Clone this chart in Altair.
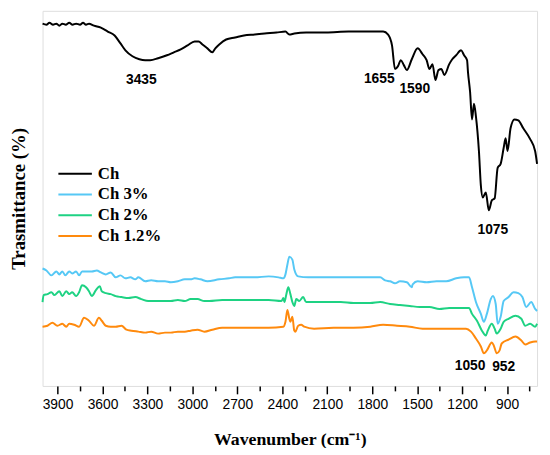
import altair as alt
import pandas as pd

names = ["Ch", "Ch 3%", "Ch 2%", "Ch 1.2%"]
colors = ["#000000", "#56C8F5", "#1ED283", "#FF8A0D"]

ch_wn = [4000, 3974, 3954, 3930, 3908, 3888, 3868, 3845, 3822, 3800, 3776, 3750, 3730, 3710, 3690, 3657,
         3611, 3565, 3519, 3480, 3447, 3400, 3354, 3315, 3282, 3229, 3170, 3124, 3078, 3032, 2985, 2959,
         2933, 2900, 2867, 2847, 2821, 2775, 2715, 2656, 2584, 2518, 2439, 2379, 2353, 2320, 2241, 2109,
         1958, 1846, 1727, 1694, 1668, 1648, 1628, 1609, 1589, 1569, 1536, 1497, 1464, 1437, 1418, 1398,
         1378, 1358, 1338, 1319, 1286, 1266, 1240, 1207, 1187, 1167, 1161, 1147, 1134, 1121, 1108, 1088,
         1075, 1062, 1042, 1022, 1002, 983, 963, 943, 923, 910, 897, 877, 851, 825, 792, 746, 713, 700]
ch_t = [367, 366, 368, 366, 367, 365, 367, 366, 368, 366, 367, 366, 368, 366, 367, 365,
        363, 359, 355, 347, 340, 334, 331, 330, 330, 332, 335, 338, 341, 345, 349, 349,
        346, 342, 338, 342, 346, 351, 353, 355, 356, 357, 358, 359, 356, 357, 358, 358,
        359, 359, 359, 356, 345, 321, 324, 330, 325, 320, 331, 342, 336, 330, 321, 326,
        310, 320, 321, 315, 326, 331, 335, 340, 335, 330, 318, 298, 270, 286, 273, 238,
        203, 191, 196, 178, 188, 190, 221, 225, 241, 251, 238, 261, 270, 269, 261, 250, 238, 225]

c3_wn = [4000, 3974, 3941, 3908, 3888, 3868, 3848, 3822, 3802, 3776, 3756, 3736, 3704, 3671, 3638, 3611,
         3578, 3545, 3512, 3480, 3447, 3414, 3381, 3361, 3315, 3275, 3229, 3183, 3144, 3097, 3051, 3012,
         2985, 2946, 2900, 2821, 2755, 2715, 2649, 2584, 2491, 2425, 2393, 2379, 2366, 2353, 2333, 2320,
         2294, 2228, 2142, 2057, 1964, 1879, 1813, 1747, 1714, 1681, 1648, 1615, 1569, 1536, 1530, 1497,
         1437, 1371, 1306, 1240, 1187, 1154, 1134, 1108, 1075, 1055, 1035, 1009, 995, 976, 963, 943,
         923, 890, 857, 825, 798, 772, 739, 713, 700]
c3_t = [119, 117, 112, 116, 113, 116, 112, 116, 114, 116, 112, 116, 116, 116, 117, 115,
        113, 115, 110, 112, 109, 110, 108, 110, 106, 107, 106, 106, 105, 106, 108, 108,
        109, 108, 106, 108, 109, 110, 110, 110, 111, 110, 109, 113, 123, 131, 128, 118,
        111, 110, 110, 110, 110, 110, 110, 110, 107, 106, 104, 106, 105, 100, 103, 106,
        105, 106, 106, 109, 110, 110, 100, 85, 73, 65, 73, 88, 91, 83, 63, 70,
        86, 90, 95, 94, 90, 80, 85, 78, 76]

c2_wn = [4000, 3993, 3967, 3941, 3921, 3888, 3868, 3842, 3822, 3802, 3776, 3756, 3736, 3710, 3690, 3671,
         3644, 3618, 3605, 3578, 3545, 3512, 3473, 3427, 3381, 3341, 3295, 3229, 3183, 3144, 3097, 3051,
         3012, 2966, 2920, 2887, 2801, 2715, 2603, 2491, 2406, 2393, 2386, 2373, 2360, 2346, 2333, 2320,
         2307, 2287, 2261, 2241, 2188, 2096, 2010, 1925, 1813, 1747, 1681, 1615, 1549, 1483, 1418, 1352,
         1286, 1220, 1154, 1134, 1101, 1068, 1042, 1029, 1002, 983, 969, 943, 923, 890, 844, 805,
         779, 746, 713, 700]
c2_t = [85, 92, 93, 95, 92, 96, 91, 96, 93, 95, 91, 95, 102, 100, 96, 91,
        97, 101, 96, 94, 93, 91, 90, 89, 90, 88, 86, 86, 86, 86, 87, 86,
        88, 88, 86, 86, 87, 87, 87, 87, 86, 89, 85, 93, 100, 93, 85, 81,
        88, 86, 90, 85, 85, 85, 85, 84, 84, 85, 83, 82, 81, 80, 80, 78,
        79, 79, 79, 73, 66, 56, 51, 56, 63, 58, 53, 58, 65, 68, 71, 68,
        61, 63, 60, 63]

c12_wn = [4000, 3967, 3934, 3901, 3868, 3842, 3822, 3789, 3756, 3723, 3690, 3657, 3624, 3605, 3578, 3545,
          3512, 3473, 3440, 3407, 3361, 3315, 3275, 3229, 3183, 3144, 3097, 3051, 3012, 2966, 2920, 2867,
          2801, 2715, 2603, 2491, 2393, 2379, 2366, 2353, 2346, 2333, 2320, 2313, 2294, 2274, 2254, 2188,
          2057, 1925, 1813, 1727, 1635, 1549, 1464, 1371, 1286, 1174, 1141, 1108, 1075, 1055, 1035, 1002,
          989, 969, 950, 936, 890, 844, 805, 779, 746, 713, 700]
c12_t = [60, 61, 64, 61, 63, 60, 63, 62, 60, 69, 66, 61, 69, 66, 61, 60,
         60, 61, 57, 56, 55, 54, 55, 53, 54, 54, 55, 55, 56, 57, 55, 57,
         59, 59, 59, 59, 60, 65, 77, 68, 65, 70, 56, 55, 61, 62, 60, 58,
         59, 59, 60, 62, 61, 60, 58, 58, 58, 58, 55, 48, 40, 33, 36, 44,
         41, 33, 36, 43, 47, 50, 46, 42, 44, 45, 45]

ann_text = ["3435", "1655", "1590", "1075", "1050", "952"]
ann_wn = [3341, 1753, 1516, 995, 1147, 923]
ann_t = [310, 311, 301, 158, 20, 19]

major_ticks = [3900, 3600, 3300, 3000, 2700, 2400, 2100, 1800, 1500, 1200, 900]
minor_ticks = [3750, 3450, 3150, 2850, 2550, 2250, 1950, 1650, 1350, 1050, 750]

rows = []
for nm, wns, ts in [("Ch", ch_wn, ch_t), ("Ch 3%", c3_wn, c3_t),
                    ("Ch 2%", c2_wn, c2_t), ("Ch 1.2%", c12_wn, c12_t)]:
    for i, (w, t) in enumerate(zip(wns, ts)):
        rows.append({"series": nm, "wn": w, "T": t, "idx": i})
df = pd.DataFrame(rows)
ann = pd.DataFrame({"label": ann_text, "wn": ann_wn, "T": ann_t})
minor_df = pd.DataFrame({"wn": minor_ticks})

xscale = alt.Scale(domain=[4000, 700], nice=False, zero=False)
yscale = alt.Scale(domain=[0, 380], nice=False, zero=False)

lines = alt.Chart(df).mark_line(strokeWidth=2, interpolate="monotone").encode(
    x=alt.X("wn:Q", scale=xscale,
            axis=alt.Axis(values=major_ticks, format="d", title="Wavenumber (cm⁻¹)",
                          grid=False, domain=False, tickColor="black", tickWidth=1.5,
                          tickSize=8, labelPadding=4, labelFont="Liberation Sans",
                          labelFontSize=14, labelColor="black", titleFont="Liberation Serif",
                          titleFontSize=18, titleFontWeight="bold", titleColor="black",
                          titlePadding=19, labelFlush=False, orient="bottom")),
    y=alt.Y("T:Q", scale=yscale,
            axis=alt.Axis(title="Trasmittance (%)", labels=False, ticks=False, domain=False,
                          grid=False, titleFont="Liberation Serif", titleFontSize=19,
                          titleFontWeight="bold", titleColor="black", titlePadding=14)),
    color=alt.Color("series:N", sort=names,
                    scale=alt.Scale(domain=names, range=colors),
                    legend=alt.Legend(orient="none", legendX=15, legendY=157, title=None,
                                      symbolType="stroke", symbolSize=1150,
                                      symbolStrokeWidth=2, labelFont="Liberation Serif",
                                      labelFontSize=17, labelFontWeight="bold",
                                      labelColor="black", rowPadding=4, labelOffset=5,
                                      clipHeight=16)),
    order="idx:Q",
    detail="series:N",
)

texts = alt.Chart(ann).mark_text(font="Liberation Sans", fontWeight="bold", fontSize=14,
                                 color="black").encode(
    x=alt.X("wn:Q", scale=xscale, axis=None),
    y=alt.Y("T:Q", scale=yscale),
    text="label:N",
)

minor = alt.Chart(minor_df).mark_point(opacity=0).encode(
    x=alt.X("wn:Q", scale=xscale,
            axis=alt.Axis(values=minor_ticks, labels=False, title=None, grid=False,
                          domain=False, tickColor="black", tickWidth=1.5, tickSize=5,
                          orient="bottom")),
)

chart = alt.layer(lines, texts, minor).resolve_axis(x="independent").properties(
    width=501, height=380, autosize="none",
    padding={"left": 35, "top": 0, "right": 5, "bottom": 60},
).configure_view(stroke="black", strokeWidth=2).configure(background="white")

chart.save("out.html", embed_options={"renderer": "svg", "actions": False})
